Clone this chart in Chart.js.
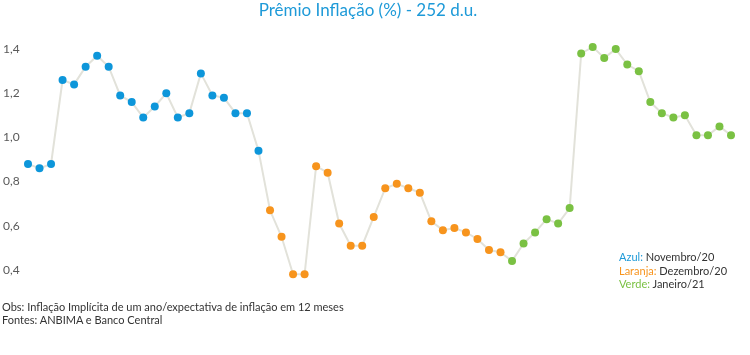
<!DOCTYPE html>
<html><head><meta charset="utf-8">
<script src="https://cdn.jsdelivr.net/npm/chart.js@4"></script>
<style>
html,body{margin:0;padding:0;background:#fff;}
#wrap{position:relative;width:750px;height:355px;font-family:Lato,"Open Sans",sans-serif;}
#c{position:absolute;left:0;top:0;}
.t{position:absolute;white-space:nowrap;}
#title{left:0;width:736px;top:-1px;text-align:center;font-size:17px;color:#1E9AD8;}
#leg{left:619px;top:250px;font-size:11px;line-height:13.7px;color:#333;}
#foot{left:2px;top:300px;font-size:11px;line-height:13px;color:#333;}
</style></head><body>
<div id="wrap">
<canvas id="c" width="750" height="355"></canvas>
<div class="t" id="title">Prêmio Inflação (%) - 252 d.u.</div>
<div class="t" id="leg"><span style="color:#1E9AD8">Azul:</span> Novembro/20<br><span style="color:#F7941D">Laranja:</span> Dezembro/20<br><span style="color:#7AC143">Verde:</span> Janeiro/21</div>
<div class="t" id="foot">Obs: Inflação Implícita de um ano/expectativa de inflação em 12 meses<br>Fontes: ANBIMA e Banco Central</div>
</div>
<script>
const novembro = [0.88,0.86,0.88,1.26,1.24,1.32,1.37,1.32,1.19,1.16,1.09,1.14,1.20,1.09,1.11,1.29,1.19,1.18,1.11,1.11,0.94];
const dezembro = [0.67,0.55,0.38,0.38,0.87,0.84,0.61,0.51,0.51,0.64,0.77,0.79,0.77,0.75,0.62,0.58,0.59,0.57,0.54,0.49,0.48];
const janeiro = [0.44,0.52,0.57,0.63,0.61,0.68,1.38,1.41,1.36,1.40,1.33,1.30,1.16,1.11,1.09,1.10,1.01,1.01,1.05,1.01];
const yTicks = [0.4,0.6,0.8,1.0,1.2,1.4];
const colors = {nov:'#0D96DA', dez:'#F7941D', jan:'#7AC143'};

const values = novembro.concat(dezembro, janeiro);
const labels = values.map((v,i)=>String(i+1));
const pointColors = novembro.map(()=>colors.nov).concat(dezembro.map(()=>colors.dez), janeiro.map(()=>colors.jan));

new Chart(document.getElementById('c'), {
  type:'line',
  data:{labels:labels, datasets:[{
    data:values,
    borderColor:'#E2E2DA',
    borderWidth:2,
    pointRadius:4,
    pointHoverRadius:4,
    pointBorderWidth:0,
    pointBackgroundColor:pointColors,
    tension:0
  }]},
  options:{
    responsive:false, animation:false,
    layout:{padding:{left:3,right:19,top:27,bottom:63}},
    plugins:{legend:{display:false},title:{display:false},tooltip:{enabled:false}},
    scales:{
      x:{display:false, offset:false},
      y:{min:0.3,max:1.5,
        border:{display:false},
        grid:{display:false},
        afterBuildTicks:(s)=>{s.ticks=yTicks.map(v=>({value:v}));},
        afterFit:(s)=>{s.width=25;},
        ticks:{crossAlign:'far',padding:0,color:'#595959',font:{family:'Lato',size:12},
          callback:(v)=>v.toFixed(1).replace('.',',')}
      }
    }
  }
});
</script>
</body></html>
